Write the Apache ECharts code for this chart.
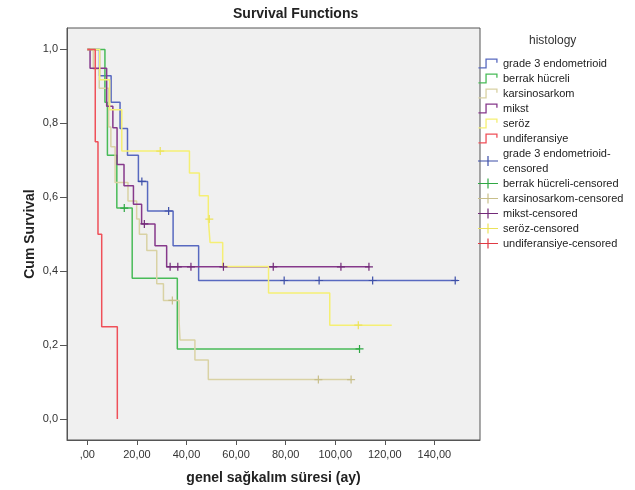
<!DOCTYPE html>
<html><head><meta charset="utf-8">
<script src="https://cdn.jsdelivr.net/npm/echarts@6/dist/echarts.min.js"></script>
<style>html,body{margin:0;padding:0;background:#fff}#c{width:635px;height:490px}</style>
</head><body><div id="c"></div>
<script>
// ---- data ----
const groupNames = ['grade 3 endometrioid', 'berrak hücreli', 'karsinosarkom', 'mikst', 'seröz', 'undiferansiye'];
const censoredSuffix = '-censored';
const xTicks = [0, 20, 40, 60, 80, 100, 120, 140];
const yTicks = [0, 0.2, 0.4, 0.6, 0.8, 1.0];

const grade3Time = [0, 4.9, 9.6, 13.2, 16.2, 20.6, 24.3, 34.6, 44.9, 149.5];
const grade3Surv = [1, 0.929, 0.857, 0.786, 0.714, 0.643, 0.563, 0.469, 0.375, 0.375];
const grade3Cens = [22.0, 32.8, 79.4, 93.5, 115.1, 148.4];

const berrakTime = [0, 7.1, 8.1, 11.9, 18.1, 36.3, 109.8];
const berrakSurv = [1, 0.857, 0.714, 0.571, 0.381, 0.190, 0.190];
const berrakCens = [14.9, 109.8];

const karsinoTime = [0, 2.4, 4.8, 8.6, 9.5, 11.2, 16.4, 19.9, 21.0, 24.0, 28.0, 30.7, 37.0, 37.4, 43.4, 48.8, 106.4];
const karsinoSurv = [1, 0.947, 0.895, 0.79, 0.737, 0.64, 0.59, 0.541, 0.50, 0.456, 0.366, 0.321, 0.267, 0.214, 0.160, 0.107, 0.107];
const karsinoCens = [34.3, 93.2, 106.4];

const mikstTime = [0, 1.1, 7.8, 10.3, 12.0, 14.8, 18.6, 21.9, 27.3, 32.0, 113.8];
const mikstSurv = [1, 0.949, 0.846, 0.788, 0.689, 0.631, 0.581, 0.528, 0.469, 0.412, 0.412];
const mikstCens = [23.0, 33.4, 36.5, 41.8, 54.9, 75.0, 102.3, 113.6];

const serozTime = [0, 5.0, 9.0, 13.9, 41.2, 45.2, 48.8, 49.5, 54.6, 73.1, 97.8, 122.8];
const serozSurv = [1, 0.918, 0.837, 0.725, 0.666, 0.604, 0.541, 0.478, 0.413, 0.341, 0.254, 0.254];
const serozCens = [29.4, 49.2, 109.3];

const undifTime = [0, 3.2, 4.3, 5.8, 12.1];
const undifSurv = [1, 0.75, 0.5, 0.25, 0];
const undifCens = [];

// ---- styles ----
const lineColors = ['#5869c0', '#48bb58', '#d9d2a4', '#86398b', '#f5ef74', '#ef5059'];
const censColors = ['#3d4fa8', '#2fa844', '#c8bf8a', '#722a78', '#ebe25a', '#e03a44'];
const FONT = '"Liberation Sans", Arial, sans-serif';

const curves = [
  [grade3Time, grade3Surv, grade3Cens],
  [berrakTime, berrakSurv, berrakCens],
  [karsinoTime, karsinoSurv, karsinoCens],
  [mikstTime, mikstSurv, mikstCens],
  [serozTime, serozSurv, serozCens],
  [undifTime, undifSurv, undifCens]
];

function survAt(times, surv, t) {
  let v = surv[0];
  for (let i = 0; i < times.length; i++) { if (times[i] <= t) v = surv[i]; }
  return v;
}

const stepIcon = 'path://M0,8.4H6.4V0.4H17.6V4.4H16.4V1.6H7.6V9.6H0Z';
const plusIcon = 'path://M0,4.4H20V5.6H0ZM9.4,0H10.6V10H9.4Z';
const plusMark = 'path://M0,3.4H8V4.6H0ZM3.4,0H4.6V8H3.4Z';

const series = [];
const legendData = [];
groupNames.forEach((name, i) => {
  const [t, s] = curves[i];
  series.push({
    type: 'line', name: name, step: 'end', showSymbol: false, symbol: 'none',
    data: t.map((x, k) => [x, s[k]]),
    lineStyle: { color: lineColors[i], width: 1.5 },
    itemStyle: { color: lineColors[i] },
    silent: true, animation: false, z: 2 + i
  });
  legendData.push({ name: name, icon: stepIcon });
});
groupNames.forEach((name, i) => {
  const [t, s, c] = curves[i];
  series.push({
    type: 'scatter', name: name + censoredSuffix,
    data: c.map(x => [x, survAt(t, s, x)]),
    symbol: plusMark, symbolSize: 8,
    itemStyle: { color: censColors[i], opacity: 1 },
    silent: true, animation: false, z: 10
  });
  legendData.push({ name: name + censoredSuffix, icon: plusIcon });
});

const chart = echarts.init(document.getElementById('c'), null, { renderer: 'canvas' });
chart.setOption({
  animation: false,
  backgroundColor: '#ffffff',
  textStyle: { fontFamily: FONT },
  title: [
    { text: 'Survival Functions', left: 233, top: 7, padding: 0,
      textStyle: { fontSize: 14, fontWeight: 'bold', color: '#222', fontFamily: FONT } },
    { text: 'histology', left: 529, top: 35, padding: 0,
      textStyle: { fontSize: 12, fontWeight: 'normal', color: '#333', fontFamily: FONT } }
  ],
  legend: {
    orient: 'vertical', left: 478, top: 56, padding: 0,
    itemWidth: 20, itemHeight: 10, itemGap: 0,
    selectedMode: false,
    itemStyle: { borderWidth: 0 },
    textStyle: { fontSize: 11, lineHeight: 15, color: '#222', fontFamily: FONT },
    formatter: n => n === groupNames[0] + censoredSuffix ? groupNames[0] + '-\ncensored' : n,
    data: legendData
  },
  grid: {
    left: 67, top: 28, width: 413, height: 414, show: true,
    backgroundColor: '#f0f0f0', borderColor: '#555', borderWidth: 1
  },
  xAxis: {
    type: 'value', min: -8.2, max: 158.4,
    name: 'genel sağkalım süresi (ay)', nameLocation: 'middle', nameGap: 31,
    nameMoveOverlap: false,
    nameTextStyle: { fontSize: 14, fontWeight: 'bold', color: '#222', fontFamily: FONT },
    axisLine: { show: true, onZero: false, lineStyle: { color: '#555', width: 1 } },
    axisTick: { show: true, customValues: xTicks, length: 5, lineStyle: { color: '#555' } },
    axisLabel: { customValues: xTicks, fontSize: 11, color: '#333', margin: 9,
      formatter: v => v === 0 ? ',00' : v.toFixed(2).replace('.', ',') },
    splitLine: { show: false }
  },
  yAxis: {
    type: 'value', min: -0.0565, max: 1.058,
    name: 'Cum Survival', nameLocation: 'middle', nameGap: 30, nameRotate: 90,
    nameMoveOverlap: false,
    nameTextStyle: { fontSize: 14, fontWeight: 'bold', color: '#222', fontFamily: FONT },
    axisLine: { show: true, onZero: false, lineStyle: { color: '#555', width: 1 } },
    axisTick: { show: true, customValues: yTicks, length: 7, lineStyle: { color: '#555' } },
    axisLabel: { customValues: yTicks, fontSize: 11, color: '#333', margin: 9,
      formatter: v => v.toFixed(1).replace('.', ',') },
    splitLine: { show: false }
  },
  series: series
});
</script>
</body></html>
